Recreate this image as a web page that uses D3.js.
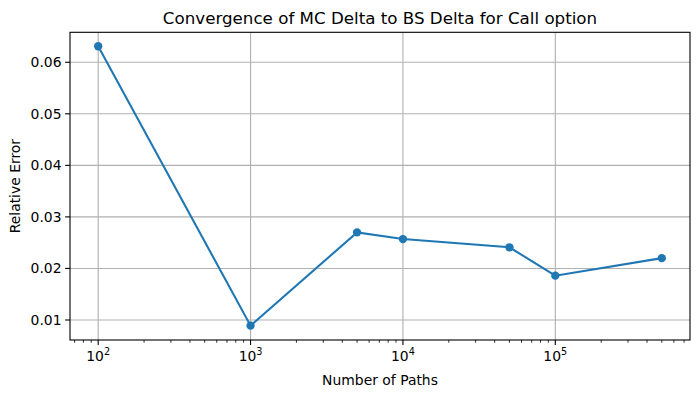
<!DOCTYPE html>
<html>
<head>
<meta charset="utf-8">
<script src="https://cdn.jsdelivr.net/npm/d3@7"></script>
<style>
body { margin: 0; background: #fff; }
svg { font-family: "DejaVu Sans", sans-serif; }
</style>
</head>
<body>
<svg width="700" height="398"></svg>
<script>
var paths = [100, 1000, 5000, 10000, 50000, 100000, 500000];
var relErr = [0.0631, 0.0089, 0.0270, 0.0257, 0.0241, 0.0186, 0.0220];
var yTicks = [0.01, 0.02, 0.03, 0.04, 0.05, 0.06];
var xTicks = [100, 1000, 10000, 100000];

var margin = {left: 70, right: 10, top: 32.3, bottom: 58};
var width = 700, height = 398;
var svg = d3.select("svg");

var x = d3.scaleLog()
    .domain([Math.pow(10, 1.815), Math.pow(10, 5.884)])
    .range([margin.left, width - margin.right]);
var y = d3.scaleLinear()
    .domain([0.00612, 0.06581])
    .range([height - margin.bottom, margin.top]);

var g = svg.append("g");

// grid
g.selectAll("line.gx").data(xTicks).enter().append("line")
    .attr("x1", d => x(d)).attr("x2", d => x(d))
    .attr("y1", margin.top).attr("y2", height - margin.bottom)
    .attr("stroke", "#b0b0b0").attr("stroke-width", 1.1);
g.selectAll("line.gy").data(yTicks).enter().append("line")
    .attr("y1", d => y(d)).attr("y2", d => y(d))
    .attr("x1", margin.left).attr("x2", width - margin.right)
    .attr("stroke", "#b0b0b0").attr("stroke-width", 1.1);

// minor ticks
var minor = [];
for (var e = 1; e <= 5; e++) for (var m = 2; m <= 9; m++) {
  var v = m * Math.pow(10, e);
  if (v >= x.domain()[0] && v <= x.domain()[1]) minor.push(v);
}
var yb = height - margin.bottom;
g.selectAll("line.mt").data(minor).enter().append("line")
    .attr("x1", d => x(d)).attr("x2", d => x(d))
    .attr("y1", yb).attr("y2", yb + 2.8)
    .attr("stroke", "#000").attr("stroke-width", 0.8);
g.selectAll("line.xt").data(xTicks).enter().append("line")
    .attr("x1", d => x(d)).attr("x2", d => x(d))
    .attr("y1", yb).attr("y2", yb + 4.9)
    .attr("stroke", "#000").attr("stroke-width", 1.1);
g.selectAll("line.yt").data(yTicks).enter().append("line")
    .attr("y1", d => y(d)).attr("y2", d => y(d))
    .attr("x1", margin.left - 4.9).attr("x2", margin.left)
    .attr("stroke", "#000").attr("stroke-width", 1.1);

// tick labels
var xl = g.selectAll("text.xl").data(xTicks).enter().append("text")
    .attr("x", d => x(d)).attr("y", yb + 21)
    .attr("text-anchor", "middle")
    .attr("font-size", "13.9px").attr("fill", "#000");
xl.append("tspan").text("10");
xl.append("tspan").attr("dy", -6).attr("font-size", "9.7px")
    .text(d => Math.round(Math.log10(d)));

g.selectAll("text.yl").data(yTicks).enter().append("text")
    .attr("x", margin.left - 8.5).attr("y", d => y(d))
    .attr("dy", "0.36em").attr("text-anchor", "end")
    .attr("font-size", "13.9px").attr("fill", "#000")
    .text(d => d.toFixed(2));

// line and markers
var line = d3.line().x((d, i) => x(paths[i])).y(d => y(d));
g.append("path").datum(relErr)
    .attr("d", line).attr("fill", "none")
    .attr("stroke", "#1f77b4").attr("stroke-width", 2.08);
g.selectAll("circle").data(relErr).enter().append("circle")
    .attr("cx", (d, i) => x(paths[i])).attr("cy", d => y(d))
    .attr("r", 4.17).attr("fill", "#1f77b4");

// frame
g.append("rect")
    .attr("x", margin.left).attr("y", margin.top)
    .attr("width", width - margin.right - margin.left)
    .attr("height", yb - margin.top)
    .attr("fill", "none").attr("stroke", "#000").attr("stroke-width", 1.1);

// labels
svg.append("text").attr("x", (margin.left + width - margin.right) / 2).attr("y", 24)
    .attr("text-anchor", "middle").attr("font-size", "16.7px")
    .text("Convergence of MC Delta to BS Delta for Call option");
svg.append("text").attr("x", (margin.left + width - margin.right) / 2).attr("y", 385)
    .attr("text-anchor", "middle").attr("font-size", "13.9px")
    .text("Number of Paths");
svg.append("text")
    .attr("transform", "translate(20," + ((margin.top + yb) / 2) + ") rotate(-90)")
    .attr("text-anchor", "middle").attr("font-size", "13.9px")
    .text("Relative Error");
</script>
</body>
</html>
